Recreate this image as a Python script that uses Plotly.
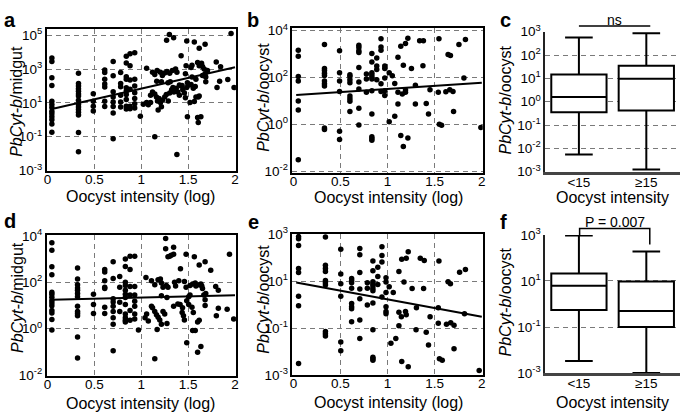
import plotly.graph_objects as go

W, H = 685, 420
FONT = "Liberation Sans, Arial, sans-serif"

# ---------------- data (y values are log10 of the plotted quantity) ----------------
# Panel a: PbCyt-b/midgut vs oocyst intensity (log)
a_col_x = [0.046, 0.33, 0.488, 0.61, 0.70, 0.78, 0.84, 0.88, 0.93]
a_col_logy = [
    [3.66, 3.45, 2.48, 2.03, 1.1, 0.9, 0.72, 0.5, 0.35, 0.17, 0.0, -0.25, -0.74],
    [2.75, 2.15, 2.0, 1.83, 1.68, 1.53, 1.40, 1.15, 0.9, 0.75, 0.6, 0.45, 0.28, -0.75, -1.9],
    [1.54, 1.1, 0.8, 0.52],
    [2.95, 2.8, 2.4, 2.12, 1.93, 1.1, 0.78],
    [3.45, 2.6, 1.65, 1.35, 1.05, 0.78, 0.4, -1.12],
    [2.8, 2.15, 1.95, 1.45, 1.05, 0.75],
    [3.75, 3.35, 2.55, 2.4, 1.9, 1.7, 1.5, 1.2, 0.8, 0.63],
    [3.9, 3.2, 2.35, 1.8, 0.8, 0.65],
    [3.96, 2.4, 2.0, 1.6, 1.25, 0.95, 0.7],
]
a_x = [1.30, 1.345, 1.27, 1.485, 1.566, 1.618, 1.681, 1.425, 1.958, 1.80, 1.846, 1.478,
       1.057, 1.12, 1.144, 1.169, 1.204, 1.225, 1.25, 1.274, 1.303, 1.331, 1.366, 1.38, 1.471,
       1.531, 1.541, 1.601, 1.618, 1.643, 1.653, 1.671, 1.681, 1.653, 1.688, 1.706, 1.541,
       1.583, 1.688,
       1.165, 1.215, 1.285, 1.309, 1.407, 1.435, 1.492, 1.531, 1.555, 1.576, 1.808, 1.836,
       1.923, 1.99,
       1.099, 1.12, 1.144, 1.162, 1.173, 1.19, 1.204, 1.225, 1.25, 1.267, 1.288, 1.303, 1.324,
       1.338, 1.348, 1.373, 1.39, 1.407, 1.425, 1.443, 1.46, 1.471, 1.485, 1.513, 1.52, 1.566,
       1.583, 1.608, 1.618,
       1.022, 1.057, 1.075, 1.099, 1.18, 1.215, 0.99,
       1.492, 1.601, 1.636, 1.608, 1.144, 1.38]
a_logy = [5.04, 4.85, 4.70, 4.66, 4.60, 4.23, 4.47, 3.79, 5.1, 3.42, 3.13, 3.19,
          3.04, 2.81, 2.68, 2.91, 2.81, 2.62, 2.77, 2.85, 2.75, 2.91, 3.0, 2.81, 2.72,
          3.09, 3.23, 3.38, 3.19, 3.34, 3.15, 3.0, 2.72, 2.62, 2.53, 2.91, 2.53,
          2.40, 2.25,
          2.28, 2.25, 2.19, 2.25, 2.06, 2.02, 2.19, 2.09, 1.87, 1.96, 1.91, 2.28,
          2.38, 1.91,
          1.45, 1.64, 1.53, 1.34, 1.11, 1.26, 1.02, 1.15, 1.34, 1.49, 1.11, 1.58, 1.77,
          1.91, 1.64, 1.87, 1.64, 1.45, 2.0, 1.77, 1.58, 1.30, 1.91, 2.06, 1.02, 1.08,
          1.34, 1.34, 1.40,
          0.92, 1.02, 0.89, 1.02, 0.58, 0.77, 0.2,
          0.17, 0.13, 0.17, -0.17, -1.0, -2.06]
a_fit = [0.58, 1.26]          # intercept, slope (log10 scale)

# Panel b: PbCyt-b/oocyst vs oocyst intensity (log)
b_col_x = [0.052, 0.33, 0.49, 0.60, 0.695, 0.775, 0.833, 0.885, 0.93, 0.97]
b_col_logy = [
    [3.16, 2.90, 2.04, 1.84, 0.99, 0.61, -1.52],
    [3.40, 2.38, 2.29, 2.18, 2.08, 1.84, 1.73, 1.63, -0.16, -0.23],
    [3.13, 2.20, 1.84, 1.40, -0.30, -0.65],
    [2.11, 2.04, 1.90, 1.77, 1.20, 1.09, 0.98, 0.54],
    [3.37, 3.27, 3.13, 3.06, 2.42, 1.80, 1.50, 0.68, -0.03],
    [2.14, 1.93, 1.36],
    [3.02, 2.65, 2.20, 2.11, 2.01, 1.93, 1.43, 0.44, -0.54, -0.61, -0.68],
    [2.83, 2.48, 2.34, 1.90],
    [3.65, 3.29, 3.16, 1.73, 1.40],
    [2.48, 2.38, 1.97, 1.43, 1.22],
]
b_x = [1.017, 1.017, 1.05, 1.076, 1.11, 1.14, 1.11, 1.11, 1.076, 1.14, 1.167, 1.215, 1.167,
       1.19, 1.215, 1.19, 1.19, 1.156, 1.253, 1.295, 1.295, 1.34, 1.38, 1.375, 1.41, 1.434,
       1.45, 1.545, 1.538, 1.549, 1.573, 1.618, 1.66, 1.694, 1.70, 1.642, 1.667, 1.757, 1.826,
       1.81, 1.99]
b_logy = [2.20, 0.10, 2.07, 1.74, 2.86, 3.33, 1.36, 0.86, 0.34, -0.48, -0.95, -0.59, 2.52,
          3.44, 3.67, 1.36, 1.46, 1.29, 2.38, 1.66, 0.86, 3.56, 3.56, 2.49, 0.88, 0.44,
          1.47, 3.65, 1.36, 0.0, -0.04, 1.39, 1.47, 1.40, 0.54, 2.97, 2.93, 3.40, 3.61,
          1.97, -0.14]
b_fit = [1.24, 0.265]

# Panel c: box plot, PbCyt-b/oocyst by oocyst intensity group
c_groups = ["<15", "≥15"]
c_lowerfence = [-2.26, -2.9]
c_q1 = [-0.45, -0.38]
c_median = [0.2, 0.99]
c_q3 = [1.17, 1.54]
c_upperfence = [2.75, 2.93]

# Panel d: PbCyt-b/midgut vs oocyst intensity (log)
d_col_x = [0.046, 0.32, 0.49, 0.61, 0.70, 0.77, 0.83, 0.88, 0.93]
d_col_logy = [
    [3.70, 3.38, 2.67, 2.32, 1.57, 1.48, 1.36, 1.22, 1.11, 0.99, 0.78, 0.68, 0.40, -0.05],
    [2.62, 2.14, 1.89, 1.75, 1.66, 1.52, 1.38, 0.97, 0.74, 0.66, 0.56, -0.36, -1.26],
    [1.49, 1.04, 0.66],
    [2.55, 2.44, 2.07, 1.79, 1.73, 0.93, 0.66],
    [2.89, 2.16, 1.29, 1.15, 0.97, 0.74, 0.47, 0.19, -0.95],
    [2.25, 1.79, 1.14, 0.74],
    [3.0, 2.68, 2.0, 1.86, 1.66, 1.48, 1.34, 1.04, 0.63, 0.47, 0.36, 0.29],
    [3.12, 2.55, 1.82, 1.45, 0.79, 0.36],
    [3.12, 1.82, 1.45, 1.18, 0.97, 0.63, 0.42],
]
d_x = [0.97, 1.26, 1.26, 1.345, 1.285, 1.303, 1.32, 1.345, 1.478, 1.566, 1.618, 1.681, 1.741,
       1.941, 1.418,
       1.05, 1.109, 1.144, 1.179, 1.204, 1.215, 1.232, 1.267, 1.285, 1.355, 1.366, 1.40, 1.46,
       1.478, 1.52, 1.548, 1.576, 1.583, 1.618, 1.636, 1.646, 1.653, 1.794, 1.822,
       1.215, 1.274, 1.506, 1.52, 1.667, 1.688, 1.681,
       1.109, 1.12, 1.057, 1.04, 1.075, 1.144, 1.162, 1.18, 1.197, 1.232, 1.25, 1.215, 1.169,
       1.274, 1.345, 1.39, 1.414, 1.44, 1.436, 1.45, 1.46, 1.485, 1.506, 1.541, 1.555, 1.601,
       1.618, 1.681, 1.548, 1.576, 1.801, 1.822, 1.916, 1.986,
       1.485, 1.601, 1.636, 1.144]
d_logy = [-0.05, 3.89, 3.44, 3.51, 3.10, 3.12, 3.16, 3.21, 3.21, 3.10, 2.75, 2.89, 2.52,
          3.21, 2.58,
          2.21, 2.07, 1.89, 2.11, 2.14, 1.97, 1.79, 1.86, 1.79, 2.0, 1.84, 2.07, 2.03,
          1.79, 1.86, 1.93, 1.97, 1.84, 1.89, 1.93, 1.84, 1.73, 1.82, 1.66,
          1.42, 1.34, 1.38, 1.45, 1.45, 1.52, 1.25,
          0.97, 0.90, 0.63, 0.47, 0.33, 0.74, 0.60, 0.49, 0.38, 0.74, 0.63, 0.19, -0.03,
          0.22, 0.97, 1.07, 1.04, 0.90, 0.70, 0.56, 0.38, 1.21, 1.04, 0.93, 0.70, 0.29,
          0.36, 1.0, -0.08, -0.08, 0.56, 0.88, 0.84, 0.42,
          -0.60, -1.01, -0.77, -1.29]
d_fit = [1.245, 0.10]

# Panel e: PbCyt-b/oocyst vs oocyst intensity (log)
e_col_x = [0.055, 0.34, 0.503, 0.618, 0.705, 0.785, 0.844, 0.896, 0.94, 0.983]
e_col_logy = [
    [2.90, 2.81, 2.52, 1.54, 1.37, 0.35, -0.05, -2.51],
    [2.88, 1.68, 1.54, 1.41, 1.03, 0.93, 0.84, -1.15, -1.24, -1.34],
    [2.36, 1.30, 0.89, 0.36, -1.59, -1.97],
    [1.11, 1.03, 0.93, 0.70, 0.05, -0.09, -0.18, -0.73],
    [2.39, 2.12, 1.37, 0.66, 0.25, -0.66, -1.45],
    [0.93, 0.70, -0.02],
    [1.86, 1.44, 0.97, 0.89, 0.80, 0.69, 0.59, 0.07, -1.07, -2.24, -2.31, -2.37],
    [1.59, 1.20, 0.86],
    [2.47, 2.09, 1.82, 0.32],
    [1.14, 0.96, 0.52, -0.09, -0.29, -0.39],
]
e_x = [1.017, 1.035, 1.06, 1.087, 1.12, 1.12, 1.12, 1.15, 1.146, 1.15, 1.174, 1.19, 1.198,
       1.198, 1.219, 1.219, 1.26, 1.306, 1.302, 1.347, 1.389, 1.382, 1.41, 1.434, 1.451,
       1.538, 1.545, 1.538, 1.55, 1.58, 1.625, 1.642, 1.667, 1.67, 1.705, 1.705, 1.764,
       1.826, 1.816, 1.972]
e_logy = [0.76, -1.65, 0.52, -1.45, 1.41, -0.33, -0.90, 1.93, -0.52, -2.43, 0.96, -0.29,
          1.98, -0.43, 2.25, -2.65, 0.69, -0.13, -1.07, 1.98, 1.88, 0.69, -1.18, -1.72,
          -0.52, -0.13, 1.86, -0.80, -2.31, -2.37, -0.84, 0.97, 0.89, -0.77, -0.88, -1.88,
          1.38, 1.50, -0.39, -2.81]
e_fit = [0.96, -0.74]

# Panel f: box plot
f_groups = ["<15", "≥15"]
f_lowerfence = [-2.48, -3.0]
f_q1 = [-0.26, -1.0]
f_median = [0.79, -0.31]
f_q3 = [1.32, 0.98]
f_upperfence = [2.98, 2.28]

x_ticks = [0, 0.5, 1, 1.5, 2]
x_ticklabels = ["0", "0.5", "1", "1.5", "2"]


# ---------------- helpers ----------------
def fx(px):
    return px / W


def fy(py):
    return 1 - py / H


def sup(e):
    return "10<sup>%d</sup>" % e


def flatten(col_x, col_logy, ex_x, ex_logy):
    xs, ys = [], []
    for cx, cy in zip(col_x, col_logy):
        for v in cy:
            xs.append(cx)
            ys.append(10 ** v)
    xs += ex_x
    ys += [10 ** v for v in ex_logy]
    return xs, ys


fig = go.Figure()

scatter_panels = [
    (1, a_col_x, a_col_logy, a_x, a_logy, a_fit, 0.046),
    (2, b_col_x, b_col_logy, b_x, b_logy, b_fit, 0.03),
    (4, d_col_x, d_col_logy, d_x, d_logy, d_fit, 0.046),
    (5, e_col_x, e_col_logy, e_x, e_logy, e_fit, 0.03),
]
for n, cx, cy, ex, ey, fit, x0 in scatter_panels:
    xs, ys = flatten(cx, cy, ex, ey)
    sfx = "" if n == 1 else str(n)
    fig.add_trace(go.Scatter(x=xs, y=ys, mode="markers", xaxis="x" + sfx, yaxis="y" + sfx,
                             marker=dict(color="black", size=5.5), showlegend=False,
                             cliponaxis=True))
    lx = [x0, 2.0]
    ly = [10 ** (fit[0] + fit[1] * v) for v in lx]
    fig.add_trace(go.Scatter(x=lx, y=ly, mode="lines", xaxis="x" + sfx, yaxis="y" + sfx,
                             line=dict(color="black", width=2), showlegend=False))

for n, g, lf, q1, med, q3, uf in [
    (3, c_groups, c_lowerfence, c_q1, c_median, c_q3, c_upperfence),
    (6, f_groups, f_lowerfence, f_q1, f_median, f_q3, f_upperfence),
]:
    fig.add_trace(go.Box(
        x=g, q1=[10 ** v for v in q1], median=[10 ** v for v in med], q3=[10 ** v for v in q3],
        lowerfence=[10 ** v for v in lf], upperfence=[10 ** v for v in uf],
        xaxis="x%d" % n, yaxis="y%d" % n, fillcolor="white",
        line=dict(color="black", width=2), whiskerwidth=0.5, width=0.82,
        boxpoints=False, showlegend=False))

grid = dict(showgrid=True, gridcolor="#7a7a7a", griddash="5px,4px", gridwidth=1)
tickfont = dict(family=FONT, size=13.5, color="black")

layout = dict(width=W, height=H, margin=dict(l=0, r=0, t=0, b=0),
              paper_bgcolor="white", plot_bgcolor="white", showlegend=False)

# scatter panel geometry: (n, x0, x1, ytop, ybottom, yrange, yticks)
sgeo = [
    (1, 44, 235, 20, 168, [-3.02, 5.36], [-3, -1, 1, 3, 5]),
    (2, 292, 484, 18.7, 170, [-2.07, 4.11], [-2, 0, 2, 4]),
    (4, 44, 235, 235, 382, [-2.02, 4.04], [-2, 0, 2, 4]),
    (5, 292, 484, 234, 381.3, [-3.0, 3.01], [-3, -1, 1, 3]),
]
for n, x0, x1, yt, yb, yr, yt_e in sgeo:
    sfx = "" if n == 1 else str(n)
    layout["xaxis" + sfx] = dict(domain=[fx(x0), fx(x1)], range=[-0.01, 2.01], anchor="y" + sfx,
                                 tickvals=x_ticks, ticktext=x_ticklabels, ticks="",
                                 ticklabelstandoff=-5,
                                 showline=True, linecolor="black", linewidth=1.5, mirror=True,
                                 zeroline=False, tickfont=tickfont, **grid)
    layout["yaxis" + sfx] = dict(domain=[fy(yb), fy(yt)], type="log", range=yr, anchor="x" + sfx,
                                 tickvals=[10 ** e for e in yt_e], ticktext=[sup(e) for e in yt_e],
                                 ticks="", showline=True, linecolor="black", linewidth=1.5,
                                 mirror=True, zeroline=False, tickfont=tickfont, **grid)

bgeo = [
    (3, 547, 683, 22.7, 169, [-3, -2, -1, 0, 1, 2, 3]),
    (6, 547, 683, 235, 379.3, [-3, -1, 1, 3]),
]
for n, x0, x1, yt, yb, yt_e in bgeo:
    layout["xaxis%d" % n] = dict(domain=[fx(x0), fx(x1)], type="category", range=[-0.5, 1.5],
                                 anchor="y%d" % n, ticks="", showline=True, linecolor="#444",
                                 ticklabelstandoff=-4,
                                 linewidth=2.5, showgrid=False, zeroline=False, tickfont=tickfont)
    layout["yaxis%d" % n] = dict(domain=[fy(yb), fy(yt)], type="log", range=[-3, 3],
                                 anchor="x%d" % n, tickvals=[10 ** e for e in yt_e],
                                 ticktext=[sup(e) for e in yt_e], ticks="", showline=True,
                                 linecolor="#222", linewidth=1.5, zeroline=False,
                                 tickfont=tickfont, **grid)

fig.update_layout(**layout)

ann = []
# panel letters
for txt, px, py in [("a", 7.5, 10), ("b", 252.5, 10), ("c", 506.5, 10), ("d", 7.5, 220),
                    ("e", 253, 221), ("f", 505, 221)]:
    ann.append(dict(text="<b>%s</b>" % txt, x=fx(px), y=fy(py), xref="paper", yref="paper",
                    showarrow=False, font=dict(family=FONT, size=20, color="black"),
                    xanchor="center", yanchor="middle"))
# y titles
for txt, px, py in [("<i>PbCyt-b</i>/midgut", 14, 95), ("<i>PbCyt-b</i>/oocyst", 262, 91),
                    ("<i>PbCyt-b</i>/oocyst", 507, 94), ("<i>PbCyt-b</i>/midgut", 14, 300),
                    ("<i>PbCyt-b</i>/oocyst", 262, 302), ("<i>PbCyt-b</i>/oocyst", 507, 305)]:
    ann.append(dict(text=txt, x=fx(px), y=fy(py), xref="paper", yref="paper", showarrow=False,
                    textangle=-90, font=dict(family=FONT, size=16, color="black"),
                    xanchor="center", yanchor="middle"))
# x titles
for txt, px, py in [("Oocyst intensity (log)", 139, 195), ("Oocyst intensity (log)", 389, 196),
                    ("Oocyst intensity", 615, 196), ("Oocyst intensity (log)", 139, 411),
                    ("Oocyst intensity (log)", 389, 410), ("Oocyst intensity", 615, 410)]:
    ann.append(dict(text=txt, x=fx(px), y=fy(py), xref="paper", yref="paper", showarrow=False,
                    font=dict(family=FONT, size=16, color="black"),
                    xanchor="center", yanchor="middle"))
ann.append(dict(text="ns", x=fx(617), y=fy(10), xref="paper", yref="paper", showarrow=False,
                font=dict(family=FONT, size=14, color="black"), xanchor="center",
                yanchor="middle"))
ann.append(dict(text="P = 0.007", x=fx(617), y=fy(222), xref="paper", yref="paper",
                showarrow=False, font=dict(family=FONT, size=14, color="black"),
                xanchor="center", yanchor="middle"))
fig.update_layout(annotations=ann)

fig.add_shape(type="line", xref="paper", yref="paper", x0=fx(581), x1=fx(653), y0=fy(16.7),
              y1=fy(16.7), line=dict(color="black", width=1.5))
fig.add_shape(type="path", xref="paper", yref="paper",
              path="M %f,%f L %f,%f L %f,%f L %f,%f" % (fx(581.7), fy(235), fx(581.7), fy(228.3),
                                                        fx(652.5), fy(228.3), fx(652.5), fy(245)),
              line=dict(color="black", width=1.5))

fig.write_html("out.html", config={"displayModeBar": False},
               post_script="document.body.style.margin='0';document.body.style.overflow='hidden';")
